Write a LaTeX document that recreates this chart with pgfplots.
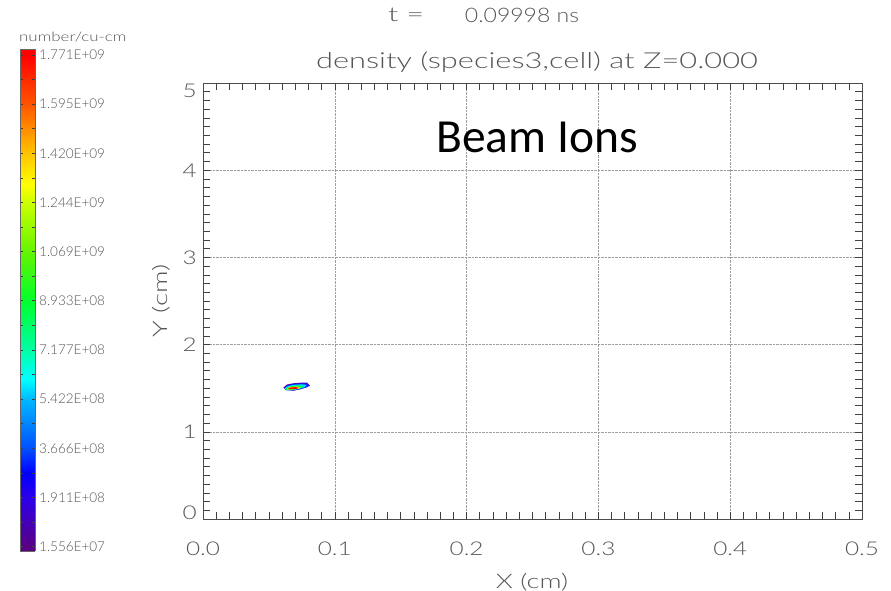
\documentclass[border=0pt]{standalone}
\usepackage{pgfplots}
\pgfplotsset{compat=1.18}
\usepackage{graphicx}
\usepackage{fontspec}
\setmainfont{Lato Light}
\newfontfamily\calibri{Carlito}

\definecolor{txt}{RGB}{85,85,85}
\definecolor{c1}{RGB}{90,0,170}
\definecolor{c2}{RGB}{0,40,255}
\definecolor{c3}{RGB}{0,220,255}
\definecolor{c4}{RGB}{0,255,60}
\definecolor{c5}{RGB}{255,235,0}
\definecolor{c6}{RGB}{255,0,0}

\pgfplotsset{
  colormap={ions}{
    rgb255(0)=(90,0,130) rgb255(20)=(45,0,235) rgb255(30)=(0,0,255)
    rgb255(40)=(0,80,255) rgb255(60)=(0,185,255) rgb255(68)=(0,255,255)
    rgb255(80)=(0,255,165) rgb255(100)=(0,255,45) rgb255(120)=(100,245,0)
    rgb255(140)=(205,255,0) rgb255(147)=(255,255,0) rgb255(160)=(255,195,0)
    rgb255(180)=(255,85,0) rgb255(200)=(255,0,0)
  }
}

\newcommand{\fs}[1]{\fontsize{#1}{#1}\selectfont}
% wide lettering, as in the plotting package's stroke font
\newcommand{\ws}[2]{\scalebox{#1}[1]{#2}}

\begin{document}
\begin{tikzpicture}

% density map
\begin{axis}[
  at={(203pt,71pt)}, anchor=origin,
  scale only axis, width=659pt, height=436pt,
  xmin=0, xmax=0.5, ymin=0, ymax=5,
  xtick={0,0.1,0.2,0.3,0.4,0.5},
  xticklabels={\ws{1.28}{0.0},\ws{1.28}{0.1},\ws{1.28}{0.2},\ws{1.28}{0.3},\ws{1.28}{0.4},\ws{1.28}{0.5}},
  ytick={0,1,2,3,4,5},
  yticklabels={\raisebox{7pt}{\ws{1.28}{0}},\ws{1.28}{1},\ws{1.28}{2},\ws{1.28}{3},\ws{1.28}{4},\raisebox{-7pt}{\ws{1.28}{5}}},
  minor x tick num=9, minor y tick num=9,
  tick align=inside,
  major tick length=7pt, minor tick length=7pt,
  grid=major,
  grid style={densely dotted, gray!75, line width=0.6pt},
  axis line style={black!70, line width=0.8pt},
  tick style={black!75, line width=0.6pt},
  xticklabel style={font=\fs{19}, text=txt, anchor=base, inner sep=0pt, yshift=-36pt},
  yticklabel style={font=\fs{19}, text=txt, anchor=base east, inner sep=0pt, xshift=-6pt, yshift=-7pt},
]
% nested density contours of the ion bunch
\addplot[fill=c1, draw=none] coordinates {
  (0.0609,1.506) (0.0637,1.542) (0.0683,1.556) (0.0736,1.563) (0.0789,1.563)
  (0.0812,1.529) (0.0787,1.510) (0.0736,1.487) (0.0685,1.471) (0.0635,1.483)} -- cycle;
\addplot[fill=c2, draw=none] coordinates {
  (0.0615,1.500) (0.0641,1.534) (0.0683,1.548) (0.0736,1.554) (0.0789,1.555)
  (0.0804,1.531) (0.0781,1.510) (0.0736,1.489) (0.0683,1.474) (0.0630,1.477)} -- cycle;
\addplot[fill=c3, draw=none] coordinates {
  (0.0618,1.497) (0.0645,1.525) (0.0690,1.539) (0.0751,1.545) (0.0785,1.537)
  (0.0774,1.514) (0.0728,1.491) (0.0675,1.477) (0.0634,1.479)} -- cycle;
\addplot[fill=c4, draw=none] coordinates {
  (0.0626,1.497) (0.0653,1.518) (0.0698,1.528) (0.0751,1.529) (0.0759,1.516)
  (0.0728,1.495) (0.0683,1.482) (0.0637,1.482)} -- cycle;
\addplot[fill=c5, draw=none] coordinates {
  (0.0637,1.497) (0.0660,1.514) (0.0706,1.518) (0.0736,1.514) (0.0721,1.493)
  (0.0675,1.486) (0.0645,1.487)} -- cycle;
\addplot[fill=c6, draw=none] coordinates {
  (0.0645,1.498) (0.0668,1.509) (0.0706,1.512) (0.0725,1.505) (0.0706,1.491)
  (0.0660,1.489)} -- cycle;
\end{axis}

% colour scale
\begin{axis}[
  at={(20pt,43.3pt)}, anchor=origin,
  scale only axis, width=15pt, height=502pt,
  view={0}{90},
  xmin=0, xmax=1, ymin=-0.087, ymax=10.12, zmin=-1, zmax=1,
  xtick=\empty, ztick=\empty,
  ytick={0,1,2,3,4,5,6,7,8,9,10},
  yticklabels={1.556E+07,1.911E+08,3.666E+08,5.422E+08,7.177E+08,8.933E+08,
               1.069E+09,1.244E+09,1.420E+09,1.595E+09,1.771E+09},
  minor y tick num=1,
  tick align=inside,
  major tick length=3pt, minor tick length=3pt,
  tick style={black!75, line width=0.6pt},
  yticklabel pos=right,
  yticklabel style={font=\fs{13.5}, text=txt, anchor=west, inner sep=0pt, xshift=4pt},
  axis line style={black!60, line width=0.5pt},
  colormap name=ions,
  point meta min=0, point meta max=10,
]
\addplot3[surf, shader=interp, point meta=y] coordinates {
  (0,-0.087,0) (1,-0.087,0)

  (0,0,0) (1,0,0)

  (0,1,0) (1,1,0)

  (0,2,0) (1,2,0)

  (0,3,0) (1,3,0)

  (0,4,0) (1,4,0)

  (0,5,0) (1,5,0)

  (0,6,0) (1,6,0)

  (0,7,0) (1,7,0)

  (0,8,0) (1,8,0)

  (0,9,0) (1,9,0)

  (0,10,0) (1,10,0)

  (0,10.12,0) (1,10.12,0)
};
\end{axis}

\node[font=\fs{13}, text=txt, anchor=west, inner sep=0pt] at (19pt,553pt) {\ws{1.3}{number/cu-cm}};
\node[font=\fs{20}, text=txt] at (406pt,575pt) {\ws{1.5}{t =}};
\node[font=\fs{20}, text=txt] at (522pt,575pt) {\ws{1.15}{0.09998 ns}};
\node[font=\fs{22}, text=txt] at (537pt,528pt) {\ws{1.4}{density (species3,cell) at Z=0.000}};
\node[font=\calibri\fs{47.5}, anchor=base, inner sep=0pt] at (537pt,437pt) {Beam Ions};
\node[font=\fs{20}, text=txt] at (532pt,8pt) {\ws{1.37}{X (cm)}};
\node[font=\fs{20}, text=txt, rotate=90] at (161pt,289pt) {\ws{1.4}{Y (cm)}};

\pgfresetboundingbox
\path[use as bounding box] (0pt,0pt) rectangle (891pt,590pt);
\end{tikzpicture}
\end{document}
